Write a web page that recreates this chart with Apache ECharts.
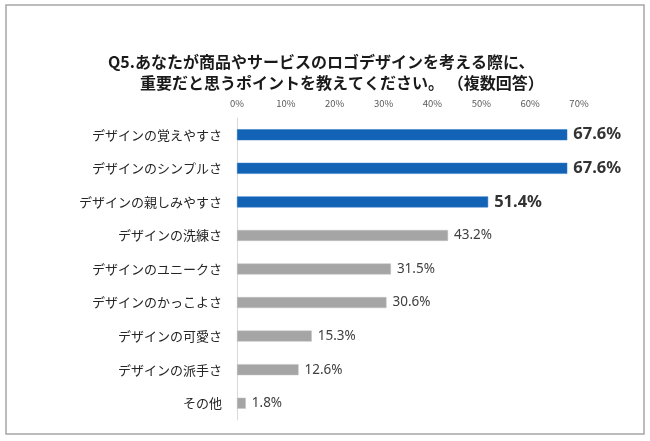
<!DOCTYPE html>
<html><head><meta charset="utf-8">
<script src="https://cdn.jsdelivr.net/npm/echarts@6/dist/echarts.min.js"></script>
<style>html,body{margin:0;padding:0;background:#fff}#c{width:650px;height:441px}</style>
</head><body><div id="c"></div>
<script>
const categories = ['デザインの覚えやすさ','デザインのシンプルさ','デザインの親しみやすさ','デザインの洗練さ','デザインのユニークさ','デザインのかっこよさ','デザインの可愛さ','デザインの派手さ','その他'];
const values = [67.6, 67.6, 51.4, 43.2, 31.5, 30.6, 15.3, 12.6, 1.8];
const highlightCount = 3;
const tickMax = 70;
const titleLine1 = 'Q5.あなたが商品やサービスのロゴデザインを考える際に、';
const titleLine2 = '重要だと思うポイントを教えてください。 （複数回答）';

const FONT = '"Noto Sans CJK JP","Noto Sans",sans-serif';
const chart = echarts.init(document.getElementById('c'), null, {renderer:'canvas'});
chart.setOption({
  backgroundColor:'#fff',
  animation:false,
  graphic:[{type:'rect', shape:{x:6,y:5,width:638,height:429}, style:{fill:'none', stroke:'#A6A6A6', lineWidth:1.5}}],
  title:[
    {text:titleLine1, left:103, top:49, textStyle:{fontFamily:FONT, fontSize:16, fontWeight:'bold', color:'#1a1a1a'}},
    {text:titleLine2, left:135, top:70, textStyle:{fontFamily:FONT, fontSize:16, fontWeight:'bold', color:'#1a1a1a'}}
  ],
  grid:{left:237, right:71, top:118, bottom:21, containLabel:false},
  xAxis:{type:'value', position:'top', min:0, max:tickMax, interval:10,
    axisLine:{show:false}, axisTick:{show:false}, splitLine:{show:false},
    axisLabel:{formatter:'{value}%', fontFamily:FONT, fontSize:9.5, color:'#595959', margin:10}},
  yAxis:{type:'category', inverse:true, data:categories,
    axisLine:{show:true, lineStyle:{color:'#D9D9D9', width:1}}, axisTick:{show:false},
    axisLabel:{fontFamily:FONT, fontSize:13, color:'#262626', margin:15}},
  series:[{type:'bar', barWidth:11,
    data: values.map((v,i)=>({value:v,
      itemStyle:{color: i<highlightCount ? '#1262B5' : '#A5A5A5', borderColor: i<highlightCount ? '#2E7ACB' : '#C0C0C0', borderWidth:0.5},
      label: i<highlightCount ? {fontSize:16.5, fontWeight:'bold', color:'#333'} : {fontSize:13.5, fontWeight:'normal', color:'#404040'}})),
    label:{show:true, position:'right', distance:6, fontFamily:'"Noto Sans",sans-serif', formatter:p=>p.value.toFixed(1)+'%'}
  }]
});
</script></body></html>
